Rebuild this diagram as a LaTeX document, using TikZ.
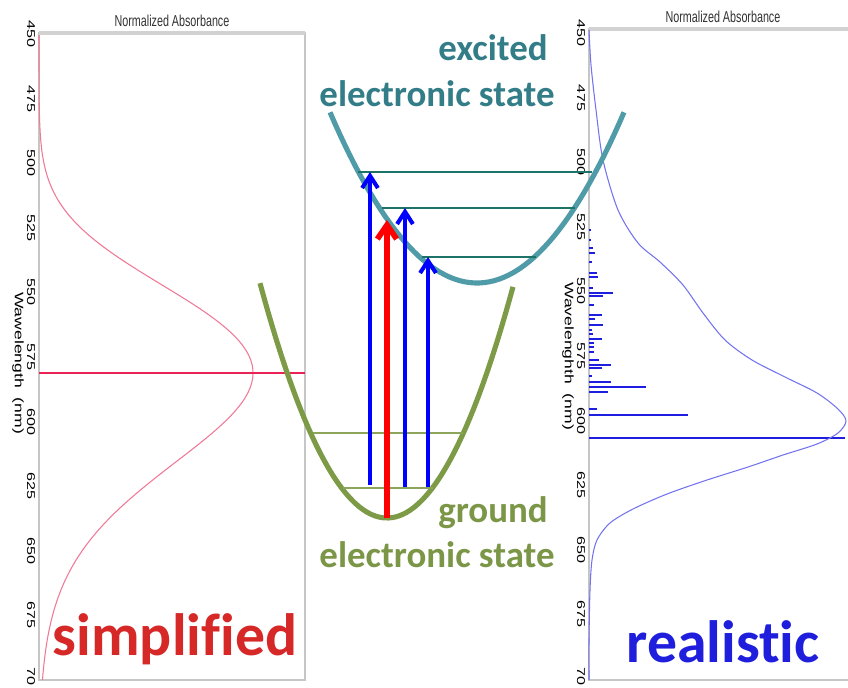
\documentclass[tikz,border=0pt]{standalone}
\usepackage{fontspec}
\setmainfont{Liberation Sans}
\newfontfamily\narrowfont[FakeStretch=0.68]{Liberation Sans}
\newfontfamily\statefont[Ligatures={NoCommon}]{Carlito}
\usetikzlibrary{arrows.meta,positioning}

\definecolor{tealpot}{RGB}{80,155,168}
\definecolor{teallevel}{RGB}{30,115,105}
\definecolor{tealtext}{RGB}{50,125,135}
\definecolor{greenpot}{RGB}{125,155,70}
\definecolor{greenlevel}{RGB}{140,165,90}
\definecolor{greentext}{RGB}{122,150,70}
\definecolor{pinkcurve}{RGB}{240,120,150}
\definecolor{pinkline}{RGB}{235,35,85}
\definecolor{bluecurve}{RGB}{115,115,240}
\definecolor{bluestick}{RGB}{30,30,225}
\definecolor{redtext}{RGB}{215,40,40}
\definecolor{bluetext}{RGB}{30,30,220}

\begin{document}
\begin{tikzpicture}[
    x=0.02cm, y=-0.02cm,
    declare function={engap(\t)=(10000/(450+(\t-35)*0.3876)-17.212)/1.02;},
    axisframe/.style={draw=gray!45, line width=0.8pt},
    topedge/.style={draw=gray!35, line width=1.8pt},
    ticklabel/.style={font=\fontsize{9.2}{10}\selectfont, rotate=-90, yscale=0.7, inner sep=0pt},
    axislabel/.style={font=\fontsize{10}{12}\selectfont, rotate=-90, yscale=0.7, inner sep=0pt},
    plottitle/.style={font=\narrowfont\fontsize{9}{10}\selectfont, text=black!80, anchor=base, inner sep=0pt},
    excitedpot/.style={draw=tealpot, line width=2.9pt},
    groundpot/.style={draw=greenpot, line width=2.9pt},
    excitedlevel/.style={draw=teallevel, line width=0.9pt},
    groundlevel/.style={draw=greenlevel, line width=0.9pt},
    bluetrans/.style={-{Straight Barb[length=7pt, width=9pt]}, draw=blue, line width=2.3pt},
    redtrans/.style={-{Straight Barb[length=8pt, width=11pt]}, draw=red, line width=3.2pt},
    stick/.style={draw=bluestick, line width=1.1pt},
    statelabel/.style={font=\statefont\bfseries\fontsize{21}{24}\selectfont, anchor=base, inner sep=0pt},
    bigword/.style={font=\statefont\bfseries\fontsize{34}{36}\selectfont, anchor=base, inner sep=0pt}
]

    \path[fill=white, use as bounding box] (0,0) rectangle (848,687);

    % simplified spectrum
    \draw[axisframe] (39,33) rectangle (305,680);
    \draw[topedge] (39,33) -- (305,33);
    \node[plottitle] (ltitle) at (172,26) {Normalized Absorbance};
    \node[axislabel] (lwave) at (18,363) {Wawelength\ \ (nm)};
    \foreach \w [count=\i from 0] in {450,475,...,675}
        \node[ticklabel] (lt\w) at (31,{34+64.6*\i}) {\w};
    \node[ticklabel, anchor=west] (lt700) at (31,667) {70};

    \draw[pinkcurve, line width=0.6pt] plot[domain=35:680, samples=140, variable=\t]
        ({39+214*exp(-engap(\t)*engap(\t)/2)}, \t);
    \draw[pinkline, line width=1.3pt] (39,373) -- (305,373);

    % realistic spectrum
    \draw[axisframe] (848,29) -- (589,29) -- (589,680) -- (848,680);
    \draw[topedge] (589,29) -- (848,29);
    \node[plottitle] (rtitle) at (723,22) {Normalized Absorbance};
    \node[axislabel] (rwave) at (568,356) {Wavelenghth\ \ (nm)};
    \foreach \w [count=\i from 0] in {450,475,...,675}
        \node[ticklabel] (rt\w) at (581,{33+64.6*\i}) {\w};
    \node[ticklabel, anchor=west] (rt700) at (581,667) {70};

    \foreach \y/\l in {230/2, 240/2, 248/4, 253/6, 262/3, 273/8, 277/9, 288/4, 293/24, 296/14,
                       305/5, 315/13, 319/6, 325/14, 330/3, 334/4, 339/13, 343/5, 347/5, 352/5,
                       360/10, 365/22, 368/13, 376/3, 382/22, 387/57, 392/19, 409/8, 415/99, 438/256}
        \draw[stick] (589,\y) -- ++(\l,0);

    \draw[bluecurve, line width=0.6pt] plot[smooth, tension=0.5] coordinates {
        (589,30) (591,65) (596,110) (603,160) (618,210) (638,243)
        (660,262) (683,285) (703,313) (725,340) (752,360) (785,377) (817,393) (838,409)
        (846,421) (838,433) (817,444) (783,455) (748,467) (707,480) (667,494) (633,509)
        (610,523) (597,540) (592,560) (590,590) (589,640) (589,680)};

    % potential curves and levels
    \draw[groundpot] plot[domain=260:513, samples=60, variable=\u]
        (\u, {518-1.456*((\u-387)/10)*((\u-387)/10)});
    \draw[groundlevel] (313,433) -- (463,433);
    \draw[groundlevel] (343,488) -- (433,488);

    \draw[excitedpot] plot[domain=330:624, samples=60, variable=\u]
        (\u, {283-0.79*((\u-477)/10)*((\u-477)/10)});
    \draw[excitedlevel] (358,172) -- (592,172);
    \draw[excitedlevel] (382,208) -- (575,208);
    \draw[excitedlevel] (422,257) -- (536,257);

    \coordinate (g0) at (387,518);
    \coordinate (c0) at (387,220);
    \coordinate (g1) at (370,485);
    \coordinate (e1) at (370,172);
    \coordinate (g2) at (405,487);
    \coordinate (e2) at (405,208);
    \coordinate (g3) at (428,487);
    \coordinate (e3) at (428,257);

    \draw[bluetrans] (g1) -- (e1);
    \draw[bluetrans] (g2) -- (e2);
    \draw[bluetrans] (g3) -- (e3);
    \draw[redtrans] (g0) -- (c0);

    % labels
    \node[statelabel, text=tealtext] (excited) at (493,60) {excited};
    \node[statelabel, text=tealtext] (excitedname) at (437,106) {electronic state};
    \node[statelabel, text=greentext] (ground) at (493,522) {ground};
    \node[statelabel, text=greentext] (groundname) at (437,567) {electronic state};

    \node[bigword, text=redtext] (simplified) at (175,655) {simplified};
    \node[bigword, text=bluetext] (realistic) at (723,662) {realistic};

\end{tikzpicture}
\end{document}
